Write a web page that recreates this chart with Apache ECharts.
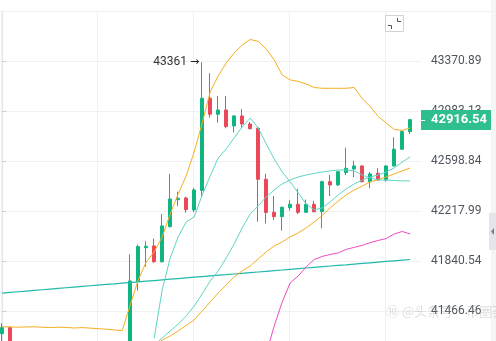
<!DOCTYPE html>
<html><head><meta charset="utf-8">
<style>html,body{margin:0;padding:0;background:#fff}#c{width:496px;height:341px}</style>
<script src="https://cdn.jsdelivr.net/npm/echarts@6/dist/echarts.min.js"></script>
</head><body><div id="c"></div>
<script>
// ---- data ----
const opens  = [41298,41343,41160,41120,41150,41100,41130,41090,41120,41080,41110,41070,41100,41060,41090,41070,
  41100,41686,41941,41954,41835,42100,42304,42317,42226,42374,43082,42958,42991,42868,42945,42883,42850,42459,
  42208,42175,42243,42269,42208,42269,42213,42441,42416,42510,42538,42561,42441,42505,42454,42561,42689,42824];
const closes = [41343,41162,41120,41150,41100,41130,41090,41120,41080,41110,41070,41100,41060,41090,41070,41100,
  41691,41949,41952,41835,42105,42309,42315,42228,42378,43082,42958,42991,42863,42945,42883,42847,42459,42207,
  42175,42246,42269,42208,42269,42213,42441,42416,42517,42543,42561,42441,42500,42454,42561,42689,42824,42916.54];
const lows   = [41214,41118,41080,41090,41060,41070,41050,41060,41040,41050,41030,41040,41020,41030,41020,41040,
  41080,41618,41798,41826,41829,42093,42256,42205,42210,42327,42932,42893,42850,42819,42850,42841,42137,42124,
  42150,42069,42220,42195,42203,42207,42087,42332,42408,42492,42475,42435,42391,42450,42441,42557,42683,42806];
const highs  = [41376,41350,41200,41190,41180,41170,41160,41150,41150,41140,41140,41130,41130,41120,41120,41140,
  41891,41964,41989,42009,42195,42500,42365,42327,42393,43361,43276,43100,43100,42952,42999,42899,42860,42501,
  42332,42252,42300,42386,42305,42295,42449,42492,42523,42701,42599,42568,42515,42543,42568,42781,42837,42922];

const upperOrange = [41349,41348,41346,41348,41349,41346,41343,41346,41344,41340,41343,41339,41335,41331,41326,41320,
  41511,41698,41833,41909,42022,42195,42348,42485,42668,42891,43131,43255,43355,43434,43496,43539,43524,43465,
  43379,43262,43224,43212,43193,43165,43159,43159,43159,43159,43165,43080,43017,42941,42891,42841,42833,42853];
const lowerOrange = [null,null,null,null,null,null,null,null,null,null,null,null,null,null,null,null,null,null,null,
  41207,41251,41281,41318,41359,41400,41466,41534,41601,41661,41721,41766,41803,41856,41909,41954,41984,42022,
  42052,42090,42135,42184,42241,42294,42340,42378,42408,42439,42458,42477,42500,42523,42546];
const fastTeal = [null,null,null,null,null,null,null,null,null,null,null,null,null,null,null,null,null,null,null,
  41266,41624,41863,42022,42135,42173,42340,42485,42622,42691,42776,42860,42929,42853,42730,42614,42515,42439,
  42355,42271,42226,42241,42287,42340,42386,42424,42454,42477,42492,42515,42546,42591,42630];
const slowTeal = [null,null,null,null,null,null,null,null,null,null,null,null,null,null,null,null,null,null,null,
  41214,41266,41318,41370,41429,41504,41594,41691,41766,41863,41969,42090,42195,42256,42325,42378,42424,42454,
  42477,42492,42504,42515,42523,42530,42530,42523,42492,42469,42454,42454,42450,42447,42447];
const longTeal = [41600,41605,41610,41615,41620,41625,41630,41635,41640,41645,41650,41655,41660,41665,41669,41674,
  41679,41684,41689,41694,41699,41704,41709,41714,41719,41724,41729,41734,41738,41743,41748,41753,41758,41763,
  41768,41773,41778,41783,41788,41793,41798,41803,41808,41812,41817,41822,41827,41832,41837,41842,41847,41852];
const magentaLine = [null,null,null,null,null,null,null,null,null,null,null,null,null,null,null,null,null,null,null,
  null,null,null,null,null,null,null,null,null,null,null,null,null,null,41148,41355,41534,41676,41728,41796,
  41852,41875,41890,41901,41928,41943,41958,41979,41995,42010,42044,42063,42044];

const yTicks = [43370.89, 42983.13, 42598.84, 42217.99, 41840.54, 41466.46];
const xGridBars = [-0.1, 11.9, 23.9, 35.9, 47.9];
const watermark = '@头条号·币圈荟';

// ---- build ----
const ln = Math.log;
const step = ln(yTicks[0]) - ln(yTicks[1]);
const yMax = ln(yTicks[0]) + step;
const yMin = ln(yTicks[yTicks.length - 1]) - 0.6 * step;
const lastIdx = closes.length - 1;
const candleData = opens.map((o, i) => [i, ln(o), ln(closes[i]), ln(lows[i]), ln(highs[i])]);
function lineData(arr) { return arr.map((v, i) => [i, v == null ? null : ln(v)]).filter(p => p[1] != null); }
function lineSeries(arr, color, w) {
  return { type: 'line', data: lineData(arr), showSymbol: false, symbol: 'none', z: 3, silent: true,
    lineStyle: { color: color, width: w || 1 } };
}
const hiIdx = highs.indexOf(Math.max.apply(null, highs));

const graphics = [
  { type: 'line', shape: { x1: 0, y1: 11.5, x2: 491, y2: 11.5 }, style: { stroke: '#eeeff1', lineWidth: 1 }, z: 10 },
  { type: 'rect', shape: { x: 491, y: 0, width: 5, height: 341 }, style: { fill: '#f4f5f6' }, z: 10 },
  { type: 'rect', shape: { x: 489, y: 213, width: 7, height: 37 }, style: { fill: '#e3e5e9' }, z: 11 },
  { type: 'polygon', shape: { points: [[491, 231.5], [494, 228], [494, 235]] }, style: { fill: '#7b7f87' }, z: 12 },
  { type: 'rect', shape: { x: 385.5, y: 15.5, width: 18, height: 16 }, style: { fill: '#fff', stroke: '#d0d2d6', lineWidth: 1 }, z: 10 },
  { type: 'polyline', shape: { points: [[397.5, 18], [397.5, 21.5], [401, 21.5]] }, style: { stroke: '#555', lineWidth: 1, fill: null }, z: 11 },
  { type: 'polyline', shape: { points: [[388, 25.5], [391.5, 25.5], [391.5, 29]] }, style: { stroke: '#555', lineWidth: 1, fill: null }, z: 11 },
  { type: 'text', left: 386, top: 305, z: 20, silent: true,
    style: { text: '⑩ ' + watermark, fill: 'rgba(160,160,160,0.35)', fontSize: 13, fontFamily: 'Noto Sans CJK SC' } }
];

const chart = echarts.init(document.getElementById('c'), null, { renderer: 'canvas' });
chart.setOption({
  animation: false,
  backgroundColor: '#fff',
  grid: { left: 0, right: 75, top: 11, bottom: 0, containLabel: false },
  xAxis: {
    type: 'value', min: -0.275, max: 52.35,
    axisLine: { show: false }, axisTick: { show: false, customValues: xGridBars },
    axisLabel: { show: false },
    splitLine: { show: true, lineStyle: { color: '#f0f1f3', width: 1 } }
  },
  yAxis: {
    type: 'value', position: 'right', min: yMin, max: yMax, scale: true,
    axisLine: { show: true, lineStyle: { color: '#e3e5e8' } },
    axisTick: { show: true, length: 4, lineStyle: { color: '#c9ccd1' }, customValues: yTicks.map(ln) },
    axisLabel: {
      customValues: yTicks.map(ln), color: '#50565f', fontSize: 12, fontFamily: 'Roboto', margin: 10,
      formatter: function (v) {
        const t = yTicks.find(t => Math.abs(ln(t) - v) < 1e-6);
        return t != null ? t.toFixed(2) : '';
      }
    },
    splitLine: { show: true, lineStyle: { color: '#f0f1f3', width: 1 } }
  },
  series: [
    lineSeries(longTeal, '#22b8ac', 1.2),
    lineSeries(upperOrange, '#f6ae1f'),
    lineSeries(lowerOrange, '#f6ae1f'),
    lineSeries(fastTeal, '#5dd5c4'),
    lineSeries(slowTeal, '#5dd5c4'),
    lineSeries(magentaLine, '#ec4cc0'),
    {
      type: 'candlestick', z: 2,
      encode: { x: 0, y: [1, 2, 3, 4] },
      data: candleData, barWidth: 4,
      itemStyle: { color: '#10b582', color0: '#ea4958', borderColor: '#10b582', borderColor0: '#ea4958', borderWidth: 1 },
      markPoint: {
        symbol: 'circle', symbolSize: 0, animation: false,
        data: [{ coord: [hiIdx, ln(highs[hiIdx])], value: highs[hiIdx] }],
        label: { show: true, position: 'left', distance: 3, color: '#333', fontSize: 12, fontFamily: 'Roboto',
          rich: { a: { fontFamily: 'DejaVu Sans', fontSize: 11, color: '#222' } },
          formatter: function (p) { return Math.round(p.value) + ' {a|→}'; } }
      }
    }
  ],
  graphic: graphics
});

// last-price tag on the price axis, placed through the axis scale
const py = Math.round(chart.convertToPixel({ yAxisIndex: 0 }, ln(closes[lastIdx])));
graphics.push(
  { type: 'rect', shape: { x: 421, y: py - 10, width: 70, height: 20 }, style: { fill: '#2fbf8f' }, z: 30 },
  { type: 'line', shape: { x1: 421, y1: py + 0.5, x2: 425, y2: py + 0.5 }, style: { stroke: '#fff', lineWidth: 1 }, z: 31 },
  { type: 'text', x: 431, y: py, z: 31,
    style: { text: closes[lastIdx].toFixed(2), fill: '#fff', fontSize: 13, fontWeight: 'bold', fontFamily: 'Roboto',
      verticalAlign: 'middle', textAlign: 'left' } }
);
chart.setOption({ graphic: graphics });
</script>
</body></html>
